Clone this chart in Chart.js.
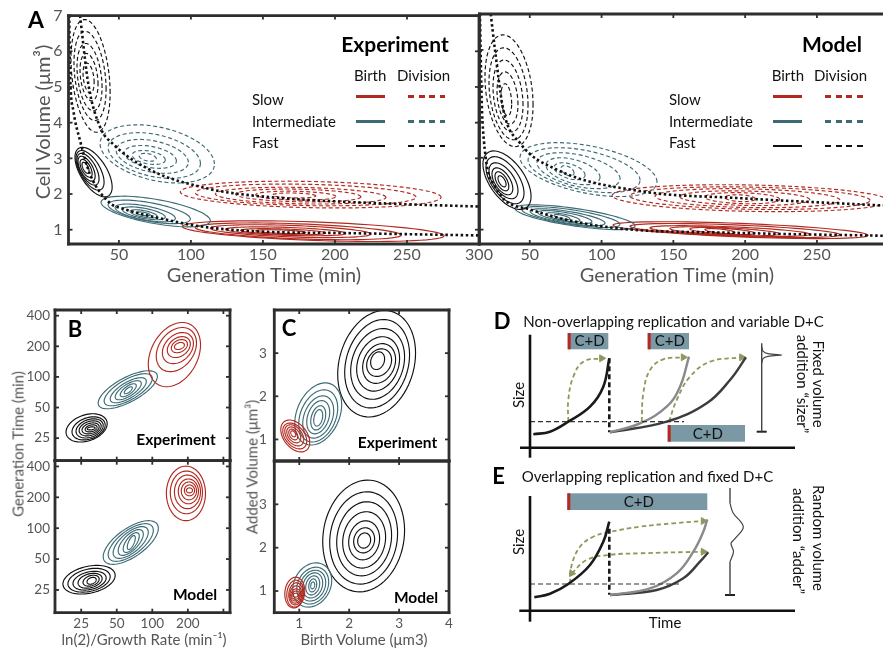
<!DOCTYPE html>
<html>
<head>
<meta charset="utf-8">
<title>Cell size contours</title>
<script src="https://cdn.jsdelivr.net/npm/chart.js"></script>
<style>
  body { margin: 0; background: #fff; }
  #fig { position: relative; width: 883px; height: 653px; overflow: hidden; font-family: Lato, 'Open Sans', sans-serif; }
  #fig canvas { position: absolute; left: 0; top: 0; }
  .lbl { position: absolute; white-space: nowrap; line-height: 1; }
  .key { position: absolute; height: 2.5px; }
</style>
</head>
<body>
<div id="fig">
  <canvas id="aExp" width="883" height="653"></canvas>
  <canvas id="aMod" width="883" height="653"></canvas>
  <canvas id="bExp" width="883" height="653"></canvas>
  <canvas id="bMod" width="883" height="653"></canvas>
  <canvas id="cExp" width="883" height="653"></canvas>
  <canvas id="cMod" width="883" height="653"></canvas>
  <canvas id="dPanel" width="883" height="653"></canvas>
  <canvas id="ePanel" width="883" height="653"></canvas>
</div>
<script>
const FONT = "Lato, 'Open Sans', sans-serif";
Chart.defaults.font.family = FONT;
Chart.defaults.color = '#555';

const RED = '#b2291f', TEAL = '#3c6b75', BLACK = '#111';
const GREEN = '#8b9a5b', BOXFILL = '#7b99a4';

// ---------- A: cell volume vs generation time ----------
const aTicksX = [50, 100, 150, 200, 250, 300];
const aTicksXModel = [50, 100, 150, 200, 250];
const aTicksY = [1, 2, 3, 4, 5, 6, 7];

// dotted ridge lines [generation time, volume]
const aExpBirthRidge = [[15.5, 7], [16, 5.5], [18.4, 4.33], [23, 3.5], [30, 2.55], [44, 1.74], [52, 1.6], [83, 1.28], [107, 1.09], [153, 0.94], [200, 0.91], [300, 0.84]];
const aExpDivRidge = [[23, 7], [28.8, 5.07], [37, 3.87], [46, 3.4], [72, 2.67], [111, 2.16], [130, 2.02], [176, 1.85], [246, 1.72], [300, 1.65]];
const aModBirthRidge = [[15.3, 7], [16.5, 4.6], [17.6, 3.69], [25.8, 2.2], [50.2, 1.56], [105.9, 1.06], [194, 0.91], [296, 0.83]];
const aModDivRidge = [[22.8, 7], [25.8, 6], [31.6, 4.33], [43.2, 3.41], [68.8, 2.67], [129, 2.06], [194, 1.88], [296, 1.67]];

// contour rings [xLow, xHigh, yLow, yHigh]
const aExpFastBirth = [[19.5,45.3,1.92,3.31],[20.2,39.7,2.11,3.22],[20.9,36.2,2.25,3.14],[21.6,33.5,2.36,3.06],[23,31.4,2.47,2.97],[24.4,29.3,2.58,2.89]];
const aExpFastDiv = [[16.7,43.9,3.73,6.89],[18.8,41.1,4.06,6.56],[20.9,38.3,4.33,6.22],[23,35.5,4.61,5.94],[25.1,32.8,4.83,5.67]];
const aExpMidBirth = [[37.6,113.5,1.08,1.94],[42.5,99.6,1.17,1.83],[47.4,89.2,1.22,1.72],[52.3,82.2,1.28,1.64],[57.8,76.6,1.33,1.56],[62,71.8,1.39,1.5]];
const aExpMidDiv = [[36.9,116.3,2.31,3.94],[42.5,106.6,2.44,3.72],[48.1,98.2,2.58,3.53],[53.7,89.9,2.72,3.36],[59.2,82.2,2.83,3.22],[64.1,75.9,2.92,3.14]];
const aExpSlowBirth = [[94,275.8,0.67,1.25],[103,246,0.72,1.19],[113.5,225,0.78,1.14],[124,207.5,0.83,1.08],[134.5,193.6,0.86,1.03],[145,179.7,0.89,1.0]];
const aExpSlowDiv = [[92.6,273.7,1.61,2.36],[103,256.3,1.67,2.28],[117,235.4,1.72,2.19],[131,218,1.78,2.14],[145,200.6,1.83,2.08],[156.7,186.7,1.89,2.03]];

const aModFastDiv = [[18.8,52.3,3.31,6.42],[21.6,48.8,3.5,6.06],[24.4,45.3,3.72,5.72],[27.2,41.8,3.94,5.39],[30,37.4,4.17,5.06]];
const aModFastBirth = [[17.4,50.9,1.56,3.19],[19.5,46,1.72,3.03],[21.6,41.8,1.86,2.86],[23.7,38.2,1.97,2.72],[25.8,35.4,2.08,2.61],[27.9,33.5,2.19,2.5]];
const aModMidDiv = [[43.2,138.6,1.92,3.42],[48.8,126.8,2.03,3.28],[55,112.9,2.14,3.14],[61.3,98.9,2.25,3],[66.9,88.5,2.39,2.86],[71.8,80.8,2.5,2.78]];
const aModMidBirth = [[39.7,123.3,1,1.69],[44.6,112.8,1.06,1.64],[50.2,102.4,1.11,1.58],[55.7,93.3,1.17,1.53],[61.3,84.9,1.22,1.47],[66.9,78,1.28,1.42]];
const aModSlowDiv = [[107.3,300,1.5,2.25],[119.8,287,1.56,2.19],[137.2,266,1.61,2.14],[154.6,245,1.67,2.08],[172,224,1.72,2.03],[186,207,1.78,1.97]];
const aModSlowBirth = [[108,285.6,0.75,1.22],[119.8,266,0.78,1.17],[133.7,245,0.81,1.11],[147.6,224,0.83,1.08],[161.5,206.8,0.86,1.06],[172,193,0.89,1.03]];

// ---------- B: generation time vs ln(2)/growth rate (log-log) ----------
const bTicks = [25, 50, 100, 200, 400];
const bLabelsX = [25, 50, 100, 200];
const bExpFast = [[18.6,41.5,22.9,43.4],[20.9,39.9,24,40.5],[22.6,38.4,25.1,38.7],[24,36.9,26.3,37],[25.4,35.5,27.5,35.3],[27,34.1,28.8,33.8],[28.1,32.8,30.1,32.3]];
const bExpMid = [[34.8,110.4,48.6,115],[39.1,100,52,107.6],[44,89,55.7,98.3],[48.5,80.7,59.6,91.8],[53.5,73.2,63.8,85.7],[57.9,67.7,68.3,80]];
const bExpSlow = [[92.5,256,80,343],[108,236.7,112.6,306],[121.7,223,135,273],[134,210,155,249],[145,198.5,173,233],[153.9,187,186,218]];
const bModFast = [[17.5,48.5,22.8,43.4],[19.3,44,23.8,40.6],[21.3,40.7,24.9,38],[23.5,37.6,26,36.3],[25.9,35.5,27.2,34.8],[28,33.5,28.4,33.2]];
const bModMid = [[38.4,112.5,44.4,118.4],[42.3,102,47.5,110.7],[46.6,92.5,50.8,103.6],[51.4,83.9,54.3,96.9],[56.7,77.6,58,90.6],[61.4,71.8,62,84.8]];
const bModSlow = [[131.6,282,118.4,403],[142,266,138.4,361],[154,256,155,330],[166,246,173,302],[176,237,189,282],[187,228,207,264],[194.6,219,221,247]];

// ---------- C: added volume vs birth volume ----------
const cTicksX = [1, 2, 3, 4];
const cTicksY = [1, 2, 3];
const cExpFast = [[1.77,3.33,1.52,3.99],[1.91,3.21,1.73,3.78],[2.03,3.11,1.93,3.57],[2.15,3.01,2.12,3.38],[2.27,2.93,2.3,3.22],[2.35,2.85,2.46,3.1],[2.43,2.71,2.62,3.03]];
const cExpMid = [[0.91,1.85,0.87,2.31],[0.99,1.77,0.94,2.15],[1.07,1.69,1.03,2.01],[1.15,1.61,1.13,1.9],[1.23,1.53,1.22,1.78],[1.29,1.47,1.31,1.69]];
const cExpSlow = [[0.63,1.21,0.71,1.45],[0.67,1.15,0.78,1.38],[0.71,1.09,0.85,1.34],[0.75,1.03,0.92,1.29],[0.79,0.97,0.99,1.24],[0.83,0.93,1.06,1.2]];
const cModFast = [[1.47,3.11,0.98,3.56],[1.61,2.97,1.16,3.29],[1.75,2.85,1.35,3.06],[1.87,2.73,1.53,2.83],[1.99,2.61,1.72,2.62],[2.09,2.51,1.88,2.46],[2.17,2.43,1.99,2.34]];
const cModMid = [[0.87,1.65,0.63,1.65],[0.95,1.59,0.7,1.55],[1.01,1.53,0.77,1.48],[1.07,1.47,0.84,1.42],[1.13,1.41,0.91,1.35],[1.19,1.35,0.98,1.28],[1.23,1.31,1.05,1.21]];
const cModSlow = [[0.71,1.11,0.61,1.32],[0.75,1.09,0.63,1.25],[0.79,1.07,0.68,1.19],[0.81,1.05,0.72,1.12],[0.83,1.03,0.77,1.05],[0.85,1.01,0.81,1.0],[0.87,0.99,0.86,0.95]];

// ---------- D / E schematics [time, size] in sketch units ----------
const dAxisX = [[-10, 0], [265, 0]];
const dAxisY = [[0, -10], [0, 113]];
const dCell1 = [[3.3, 13.4], [20, 16], [38.3, 26], [60, 41], [73.3, 61], [79.3, 89.4]];
const dDivide = [[79.3, 89.4], [79.3, 15.4]];
const dThreshold = [[0, 26], [154, 26]];
const dCell2 = [[80, 15.4], [110, 24.4], [136.7, 41], [150, 61], [159, 91]];
const dCell3 = [[80, 15.4], [136.7, 26], [176.7, 44.4], [200, 67.7], [216, 90.4]];
const dAdd1 = [[38.3, 26], [38.3, 47.7], [43.3, 71], [53.3, 86], [71.7, 89.4]];
const dAdd2 = [[111.7, 26], [113.3, 54.4], [120, 77.7], [133.3, 88.4], [153.3, 90.4]];
const dAdd3 = [[139, 26], [146.7, 47.7], [160, 71], [180, 86], [211.7, 90.4]];
const dSizerStem = [[231.7, 104.4], [231.7, 16]];
const dSizerPeak = [[231.7, 101], [233, 96.5], [238, 94], [251.7, 92.7], [238, 91.4], [233, 89], [231.7, 84.5]];
const dSizerCap = [[226.7, 16], [236.7, 16]];
const dBoxes = [[37.7, 78.3, 98.4, 114.7], [117.7, 159, 98.4, 114.7], [137.7, 215, 6, 22.7]];

const eAxisX = [[-10.7, 0], [265, 0]];
const eAxisY = [[0, -11], [0, 114.7]];
const eCell1 = [[4.3, 13.4], [20, 17], [38.3, 26.7], [60, 45.7], [73.3, 69], [79.3, 89]];
const eDivide = [[79.3, 82], [79.3, 16]];
const eThreshold = [[0, 26.7], [150.7, 26.7]];
const eCell2 = [[80, 15.7], [120, 22.4], [146.7, 37.4], [163.3, 59], [173.3, 79], [177.3, 91.4]];
const eCell3 = [[80, 15.7], [126.7, 20.7], [153.3, 32.4], [170, 49], [178.3, 58.4]];
const eAddUpper = [[40, 27.4], [41.7, 45.7], [50, 64], [63.3, 74], [78.3, 78.4], [110, 84], [143.3, 87.4], [173.3, 89.7]];
const eAddLower = [[41.7, 37.4], [56.7, 50.7], [78.3, 55.7], [110, 57.4], [173.3, 59]];
const eAdderStemTop = [[200, 122.7], [200, 107.4]];
const eAdderBump = [[200, 107.4], [203, 98], [213.3, 84], [205, 72], [201, 67.4], [203.5, 59], [200, 49]];
const eAdderStemLow = [[200, 49], [200, 15.7]];
const eAdderCap = [[195, 15.7], [205, 15.7]];
const eBoxes = [[37.3, 177.3, 100.7, 117.4]];

// ---------- plugins ----------
const contourPlugin = {
  id: 'contours',
  beforeDatasetsDraw(chart, args, opts) {
    const {ctx, chartArea: ca, scales: {x, y}} = chart;
    ctx.save();
    ctx.beginPath();
    ctx.rect(ca.left, ca.top, ca.width, ca.height);
    ctx.clip();
    (opts.clusters || []).forEach(c => {
      ctx.strokeStyle = c.color;
      ctx.lineWidth = 1.15;
      ctx.setLineDash(c.dash ? [4, 2.6] : []);
      const s = Math.sqrt(1 - c.rho * c.rho);
      c.rings.forEach(([x0, x1, y0, y1]) => {
        const l = x.getPixelForValue(x0), r = x.getPixelForValue(x1);
        const b = y.getPixelForValue(y0), t = y.getPixelForValue(y1);
        const cx = (l + r) / 2, cy = (t + b) / 2, ax = (r - l) / 2, by = (b - t) / 2;
        ctx.beginPath();
        for (let i = 0; i <= 72; i++) {
          const a = i / 72 * 2 * Math.PI;
          const px = cx + ax * Math.cos(a);
          const py = cy - by * (c.rho * Math.cos(a) + s * Math.sin(a));
          if (i) ctx.lineTo(px, py); else ctx.moveTo(px, py);
        }
        ctx.closePath();
        ctx.stroke();
      });
    });
    ctx.restore();
  }
};

const framePlugin = {
  id: 'frame',
  afterDraw(chart, args, opts) {
    if (!opts.sides) return;
    const {ctx, chartArea: ca, scales: {x, y}} = chart;
    const seg = (x0, y0, x1, y1) => { ctx.beginPath(); ctx.moveTo(x0, y0); ctx.lineTo(x1, y1); ctx.stroke(); };
    ctx.save();
    ctx.strokeStyle = '#2e2e2e';
    ctx.lineWidth = 1.8;
    const L = 4;
    x.ticks.forEach(t => {
      const p = x.getPixelForValue(t.value);
      seg(p, ca.bottom, p, ca.bottom - L);
      seg(p, ca.top, p, ca.top + L);
    });
    y.ticks.forEach(t => {
      const p = y.getPixelForValue(t.value);
      seg(ca.left, p, ca.left + L, p);
      if (opts.sides.includes('r')) seg(ca.right, p, ca.right - L, p);
    });
    ctx.lineWidth = 2.8;
    ctx.lineCap = 'square';
    if (opts.sides.includes('l')) seg(ca.left, ca.top, ca.left, ca.bottom);
    if (opts.sides.includes('r')) seg(ca.right, ca.top, ca.right, ca.bottom);
    if (opts.sides.includes('t')) seg(ca.left, ca.top, ca.right, ca.top);
    if (opts.sides.includes('b')) seg(ca.left, ca.bottom, ca.right, ca.bottom);
    ctx.restore();
  }
};

const boxPlugin = {
  id: 'cdBoxes',
  afterDatasetsDraw(chart, args, opts) {
    const {ctx, scales: {x, y}} = chart;
    ctx.save();
    (opts.boxes || []).forEach(([x0, x1, y0, y1]) => {
      const l = x.getPixelForValue(x0), r = x.getPixelForValue(x1);
      const t = y.getPixelForValue(y1), b = y.getPixelForValue(y0);
      ctx.fillStyle = BOXFILL;
      ctx.fillRect(l, t, r - l, b - t);
      ctx.fillStyle = '#b8281f';
      ctx.fillRect(l, t, 3, b - t);
      ctx.fillStyle = '#111';
      ctx.font = '15px ' + FONT;
      ctx.textAlign = 'center';
      ctx.textBaseline = 'middle';
      ctx.fillText('C+D', (l + r) / 2 + 1.5, (t + b) / 2 + 0.5);
    });
    ctx.restore();
  }
};

// ---------- helpers ----------
const pts = a => a.map(([x, y]) => ({x, y}));

function line(a, color, width, dash, tension) {
  return {data: pts(a), showLine: true, borderColor: color, borderWidth: width,
    borderDash: dash || [], pointRadius: 0, tension: tension || 0, borderCapStyle: 'butt'};
}
function ridge(a) {
  const d = line(a, BLACK, 2.6, [2.5, 2.6]);
  d.cubicInterpolationMode = 'monotone';
  return d;
}
function arrow(a, heads) {
  const d = line(a, GREEN, 1.8, [4.5, 3], 0.4);
  d.pointStyle = 'triangle';
  d.pointRadius = c => (c.dataIndex in heads ? 4 : 0);
  d.pointRotation = c => heads[c.dataIndex] || 0;
  d.pointBackgroundColor = GREEN;
  d.pointBorderColor = GREEN;
  d.pointBorderWidth = 1;
  return d;
}

function axis(kind, min, max, ticks, labels, size, pad, fit) {
  return {
    type: kind, min, max,
    grid: {display: false, drawTicks: false},
    border: {display: false},
    afterBuildTicks: s => { s.ticks = ticks.map(v => ({value: v})); },
    ticks: {display: labels.length > 0, padding: pad, color: '#555', font: {size},
      maxRotation: 0, autoSkip: false,
      callback: v => (labels.includes(v) ? String(v) : '')},
    afterFit: s => { if (s.isHorizontal()) s.height = fit; else s.width = fit; }
  };
}

function makeChart(id, box, scales, datasets, pluginOpts) {
  const [l, t, r, b, yw, xh] = box;
  return new Chart(document.getElementById(id), {
    type: 'scatter',
    data: {datasets},
    options: {
      responsive: false, animation: false, events: [],
      layout: {padding: {left: l - yw, top: t, right: 883 - r, bottom: 653 - b - xh}},
      scales,
      plugins: Object.assign({legend: {display: false}, tooltip: {enabled: false}}, pluginOpts)
    },
    plugins: [contourPlugin, framePlugin, boxPlugin]
  });
}

const cl = (rings, color, dash, rho) => ({rings, color, dash, rho});

// ---------- panel A ----------
makeChart('aExp', [68.5, 14, 479, 244, 30, 30], {
  x: axis('linear', 15, 300, aTicksX, aTicksX, 16, 1.5, 30),
  y: axis('linear', 0.6, 7, aTicksY, aTicksY, 16, 6, 30)
}, [ridge(aExpBirthRidge), ridge(aExpDivRidge)], {
  contours: {clusters: [
    cl(aExpSlowDiv, RED, true, -0.2), cl(aExpSlowBirth, RED, false, -0.45),
    cl(aExpMidDiv, TEAL, true, -0.35), cl(aExpMidBirth, TEAL, false, -0.6),
    cl(aExpFastDiv, BLACK, true, -0.3), cl(aExpFastBirth, BLACK, false, -0.6)]},
  frame: {sides: 'lrtb'}
});

makeChart('aMod', [479.5, 14, 883, 244, 0, 30], {
  x: axis('linear', 15, 296, aTicksXModel, aTicksXModel, 16, 1.5, 30),
  y: axis('linear', 0.6, 7, aTicksY, [], 16, 6, 0)
}, [ridge(aModBirthRidge), ridge(aModDivRidge)], {
  contours: {clusters: [
    cl(aModSlowDiv, RED, true, -0.2), cl(aModSlowBirth, RED, false, -0.6),
    cl(aModMidDiv, TEAL, true, -0.45), cl(aModMidBirth, TEAL, false, -0.7),
    cl(aModFastDiv, BLACK, true, -0.25), cl(aModFastBirth, BLACK, false, -0.55)]},
  frame: {sides: 'ltb'}
});

// ---------- panel B ----------
makeChart('bExp', [55, 310, 230, 460.7, 30, 0], {
  x: axis('logarithmic', 15, 455, bTicks, [], 13.5, 3, 0),
  y: axis('logarithmic', 15, 455, bTicks, bTicks, 13.5, 5, 30)
}, [], {
  contours: {clusters: [cl(bExpFast, BLACK, false, 0.3), cl(bExpMid, TEAL, false, 0.7), cl(bExpSlow, RED, false, 0.3)]},
  frame: {sides: 'lrtb'}
});
makeChart('bMod', [55, 460.7, 230, 612.7, 30, 30], {
  x: axis('logarithmic', 15, 455, bTicks, bLabelsX, 13.5, 3, 30),
  y: axis('logarithmic', 15, 455, bTicks, bTicks, 13.5, 5, 30)
}, [], {
  contours: {clusters: [cl(bModFast, BLACK, false, 0.3), cl(bModMid, TEAL, false, 0.65), cl(bModSlow, RED, false, 0)]},
  frame: {sides: 'lrtb'}
});

// ---------- panel C ----------
makeChart('cExp', [274.3, 310, 449, 461, 30, 0], {
  x: axis('linear', 0.5, 4, cTicksX, [], 13.5, 3, 0),
  y: axis('linear', 0.5, 4, cTicksY, cTicksY, 13.5, 7.5, 30)
}, [], {
  contours: {clusters: [cl(cExpFast, BLACK, false, 0.2), cl(cExpMid, TEAL, false, 0.3), cl(cExpSlow, RED, false, -0.4)]},
  frame: {sides: 'lrtb'}
});
makeChart('cMod', [274.3, 461, 449, 612.7, 30, 30], {
  x: axis('linear', 0.5, 4, cTicksX, cTicksX, 13.5, 3, 30),
  y: axis('linear', 0.5, 4, cTicksY, cTicksY, 13.5, 7.5, 30)
}, [], {
  contours: {clusters: [cl(cModFast, BLACK, false, 0.1), cl(cModMid, TEAL, false, 0.2), cl(cModSlow, RED, false, 0.1)]},
  frame: {sides: 'lrtb'}
});

// ---------- panels D and E (schematics) ----------
const hidden = (min, max) => ({type: 'linear', display: false, min, max});

makeChart('dPanel', [520, 330, 800, 460, 0, 0], {x: hidden(-10, 270), y: hidden(-12.3, 117.7)}, [
  line(dAxisX, '#111', 2.6), line(dAxisY, '#111', 2.6),
  line(dThreshold, '#333', 1.2, [5, 3]),
  line(dCell2, '#8a8a8a', 2.4, [], 0.4), line(dCell3, '#3c3c3c', 2.4, [], 0.4),
  line(dCell1, '#1a1a1a', 2.6, [], 0.4), line(dDivide, '#1a1a1a', 2.6, [5, 3]),
  arrow(dAdd1, {4: 90}), arrow(dAdd2, {4: 90}), arrow(dAdd3, {4: 90}),
  line(dSizerStem, '#444', 1.4), line(dSizerPeak, '#444', 1.2, [], 0.35), line(dSizerCap, '#222', 2)
], {cdBoxes: {boxes: dBoxes}});

makeChart('ePanel', [519, 488, 800, 625, 0, 0], {x: hidden(-11, 270), y: hidden(-14.3, 122.7)}, [
  line(eAxisX, '#111', 2.6), line(eAxisY, '#111', 2.6),
  line(eThreshold, '#333', 1.2, [5, 3]),
  line(eCell2, '#8a8a8a', 2.4, [], 0.4), line(eCell3, '#3c3c3c', 2.4, [], 0.4),
  line(eCell1, '#1a1a1a', 2.6, [], 0.4), line(eDivide, '#1a1a1a', 2.6, [5, 3]),
  arrow(eAddUpper, {7: 90}), arrow(eAddLower, {0: 215, 4: 90}),
  line(eAdderStemTop, '#444', 1.4), line(eAdderBump, '#444', 1.2, [], 0.35),
  line(eAdderStemLow, '#444', 1.4), line(eAdderCap, '#222', 2)
], {cdBoxes: {boxes: eBoxes}});

// ---------- text ----------
const fig = document.getElementById('fig');
const labels = [
  // text, x, y, size, bold, color, anchor, rotation
  ['A', 36, 19, 23, true, '#000', 'c', 0],
  ['Experiment', 395, 43, 21, true, '#000', 'c', 0],
  ['Birth', 354, 75, 15, false, '#111', 'l', 0],
  ['Division', 397, 75, 15, false, '#111', 'l', 0],
  ['Slow', 252, 99, 15, false, '#111', 'l', 0],
  ['Intermediate', 252, 121, 15, false, '#111', 'l', 0],
  ['Fast', 252, 141.5, 15, false, '#111', 'l', 0],
  ['Model', 832, 43, 21, true, '#000', 'c', 0],
  ['Birth', 771.7, 75, 15, false, '#111', 'l', 0],
  ['Division', 814, 75, 15, false, '#111', 'l', 0],
  ['Slow', 669, 99, 15, false, '#111', 'l', 0],
  ['Intermediate', 669, 121, 15, false, '#111', 'l', 0],
  ['Fast', 669, 141.5, 15, false, '#111', 'l', 0],
  ['Cell Volume (μm³)', 41.7, 122, 20, false, '#555', 'c', -90],
  ['Generation Time (min)', 264, 274, 20, false, '#555', 'c', 0],
  ['Generation Time (min)', 677, 274, 20, false, '#555', 'c', 0],
  ['B', 75, 329, 22, true, '#000', 'c', 0],
  ['Experiment', 176, 440, 15.5, true, '#000', 'c', 0],
  ['Model', 195, 595, 15.5, true, '#000', 'c', 0],
  ['Generation Time (min)', 18.3, 444, 15, false, '#555', 'c', -90],
  ['ln(2)/Growth Rate (min⁻¹)', 144, 639.3, 15, false, '#555', 'c', 0],
  ['C', 289, 328.3, 22, true, '#000', 'c', 0],
  ['Experiment', 397.5, 442.7, 15.5, true, '#000', 'c', 0],
  ['Model', 416, 598.3, 15.5, true, '#000', 'c', 0],
  ['Added Volume (μm³)', 251.7, 466.7, 15, false, '#555', 'c', -90],
  ['Birth Volume (μm3)', 364, 639.3, 15, false, '#555', 'c', 0],
  ['D', 502, 320.5, 22, true, '#000', 'c', 0],
  ['Non-overlapping replication and variable D+C', 523.3, 321, 15, false, '#111', 'l', 0],
  ['Size', 518, 395, 15, false, '#111', 'c', -90],
  ['Fixed volume', 818.3, 384, 15, false, '#111', 'c', 90],
  ['addition “sizer”', 801.7, 384, 15, false, '#111', 'c', 90],
  ['E', 498.5, 475.7, 22, true, '#000', 'c', 0],
  ['Overlapping replication and fixed D+C', 521.7, 475.7, 15, false, '#111', 'l', 0],
  ['Size', 518, 542.3, 15, false, '#111', 'c', -90],
  ['Time', 665, 621.7, 15, false, '#111', 'c', 0],
  ['Random volume', 818.3, 538.3, 15, false, '#111', 'c', 90],
  ['addition “adder”', 798.3, 541, 15, false, '#111', 'c', 90]
];
labels.forEach(([txt, x, y, size, bold, color, anchor, rot]) => {
  const d = document.createElement('div');
  d.className = 'lbl';
  d.textContent = txt;
  d.style.left = x + 'px';
  d.style.top = y + 'px';
  d.style.fontSize = size + 'px';
  d.style.color = color;
  if (bold) d.style.fontWeight = 'bold';
  d.style.transform = (anchor === 'l' ? 'translate(0,-50%)' : 'translate(-50%,-50%)') + (rot ? ' rotate(' + rot + 'deg)' : '');
  fig.appendChild(d);
});

// legend keys for panel A: x, y, width, color, dashed
const keys = [
  [356, 96.7, 29, RED, false], [408, 96.7, 37, RED, true],
  [356, 121.7, 29, TEAL, false], [408, 121.7, 37, TEAL, true],
  [356, 146, 29, BLACK, false], [408, 146, 37, BLACK, true],
  [772.7, 96.7, 29, RED, false], [825, 96.7, 38, RED, true],
  [772.7, 121.7, 29, TEAL, false], [825, 121.7, 38, TEAL, true],
  [772.7, 146, 29, BLACK, false], [825, 146, 38, BLACK, true]
];
keys.forEach(([x, y, w, color, dashed]) => {
  const k = document.createElement('div');
  k.className = 'key';
  k.style.left = x + 'px';
  k.style.top = (y - 1.25) + 'px';
  k.style.width = w + 'px';
  k.style.background = dashed
    ? 'repeating-linear-gradient(90deg,' + color + ' 0 6px, transparent 6px 10.5px)'
    : color;
  fig.appendChild(k);
});
</script>
</body>
</html>
